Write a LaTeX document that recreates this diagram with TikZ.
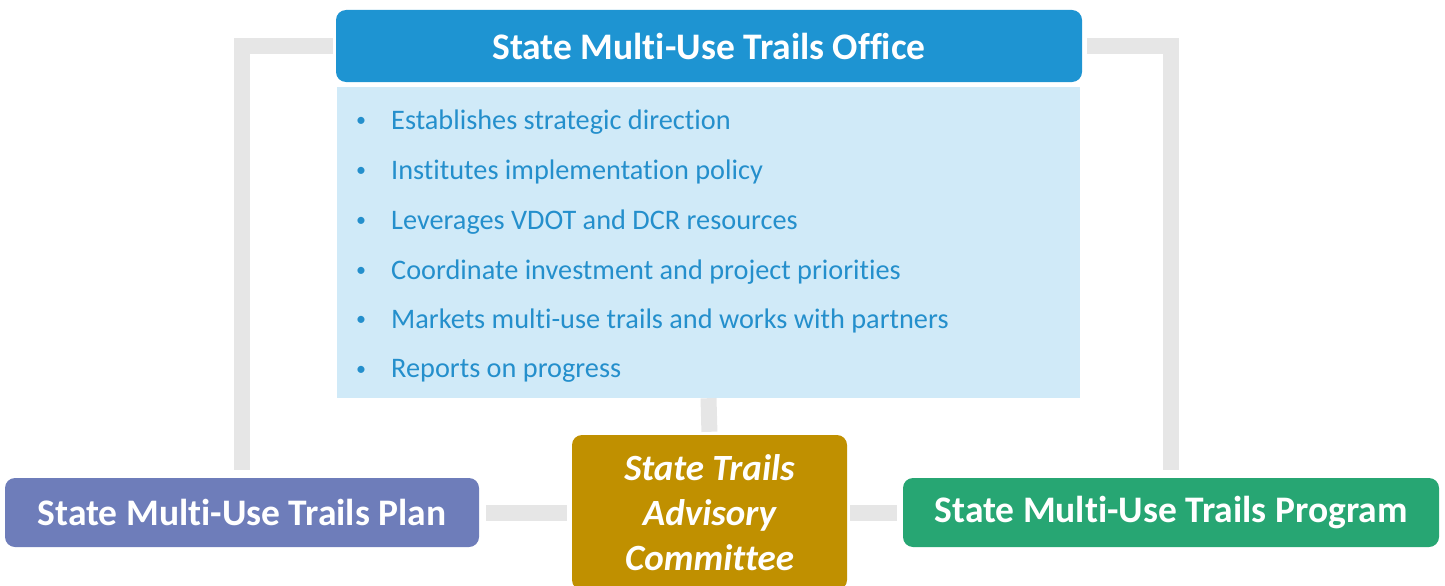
\documentclass[tikz,border=0pt]{standalone}
\usepackage{fontspec}
\setmainfont{Carlito}[Ligatures=NoCommon]
\usetikzlibrary{positioning}

\definecolor{officeblue}{RGB}{30,148,210}
\definecolor{dutyback}{RGB}{208,234,248}
\definecolor{dutytext}{RGB}{36,143,204}
\definecolor{planblue}{RGB}{110,125,186}
\definecolor{stacgold}{RGB}{192,144,0}
\definecolor{progreen}{RGB}{39,166,115}
\definecolor{linkgray}{RGB}{230,230,230}

\tikzset{
  headbox/.style={rounded corners=10pt, inner sep=0pt, text=white,
    font=\fontsize{37.5}{44}\selectfont\bfseries},
  link/.style={draw=linkgray, line width=16pt},
  duty/.style={anchor=west, text=dutytext, inner sep=0pt,
    font=\fontsize{28.3}{34}\selectfont}
}

\begin{document}
\begin{tikzpicture}[x=1pt,y=-1pt]
 \useasboundingbox (0,0) rectangle (1445,586);
 % boxes
 \node[headbox, fill=officeblue, minimum width=746pt, minimum height=72pt] (office) at (709,46) {State Multi-Use Trails Office};
 \node[fill=dutyback, inner sep=0pt, minimum width=743pt, minimum height=311pt] (duties) at (708.5,242.5) {};
 \node[headbox, fill=planblue, minimum width=474pt, minimum height=69pt] (plan) at (242,512.5) {State Multi-Use Trails Plan};
 \node[headbox, fill=progreen, minimum width=536pt, minimum height=69pt] (program) at (1171,512.5) {State Multi-Use Trails Program};
 \node[headbox, fill=stacgold, minimum width=275pt, minimum height=155pt, align=center,
   font=\fontsize{37}{45}\selectfont\bfseries\itshape] (stac) at (709.5,512.5) {State Trails\\Advisory\\Committee};
 % bullet list
 \foreach \y/\t in {122/Establishes strategic direction,
                    172/Institutes implementation policy,
                    222/Leverages VDOT and DCR resources,
                    272/Coordinate investment and project priorities,
                    321/Markets multi-use trails and works with partners,
                    371/Reports on progress}{
   \node[duty, font=\fontsize{20}{24}\selectfont] at (356,\y) {\textbullet};
   \node[duty] at (391,\y) {\t};
 }
 % connectors
 \draw[link, shorten <=3pt, shorten >=8pt] (office.west) -| (plan.north);
 \draw[link, shorten <=5pt, shorten >=8pt] (office.east) -| (program.north);
 \draw[link, shorten >=3pt] (duties.south) -- (stac.north);
 \draw[link, shorten <=7pt, shorten >=5pt] (plan.east) -- (stac.west);
 \draw[link, shorten <=3pt, shorten >=6pt] (stac.east) -- (program.west);
\end{tikzpicture}
\end{document}
